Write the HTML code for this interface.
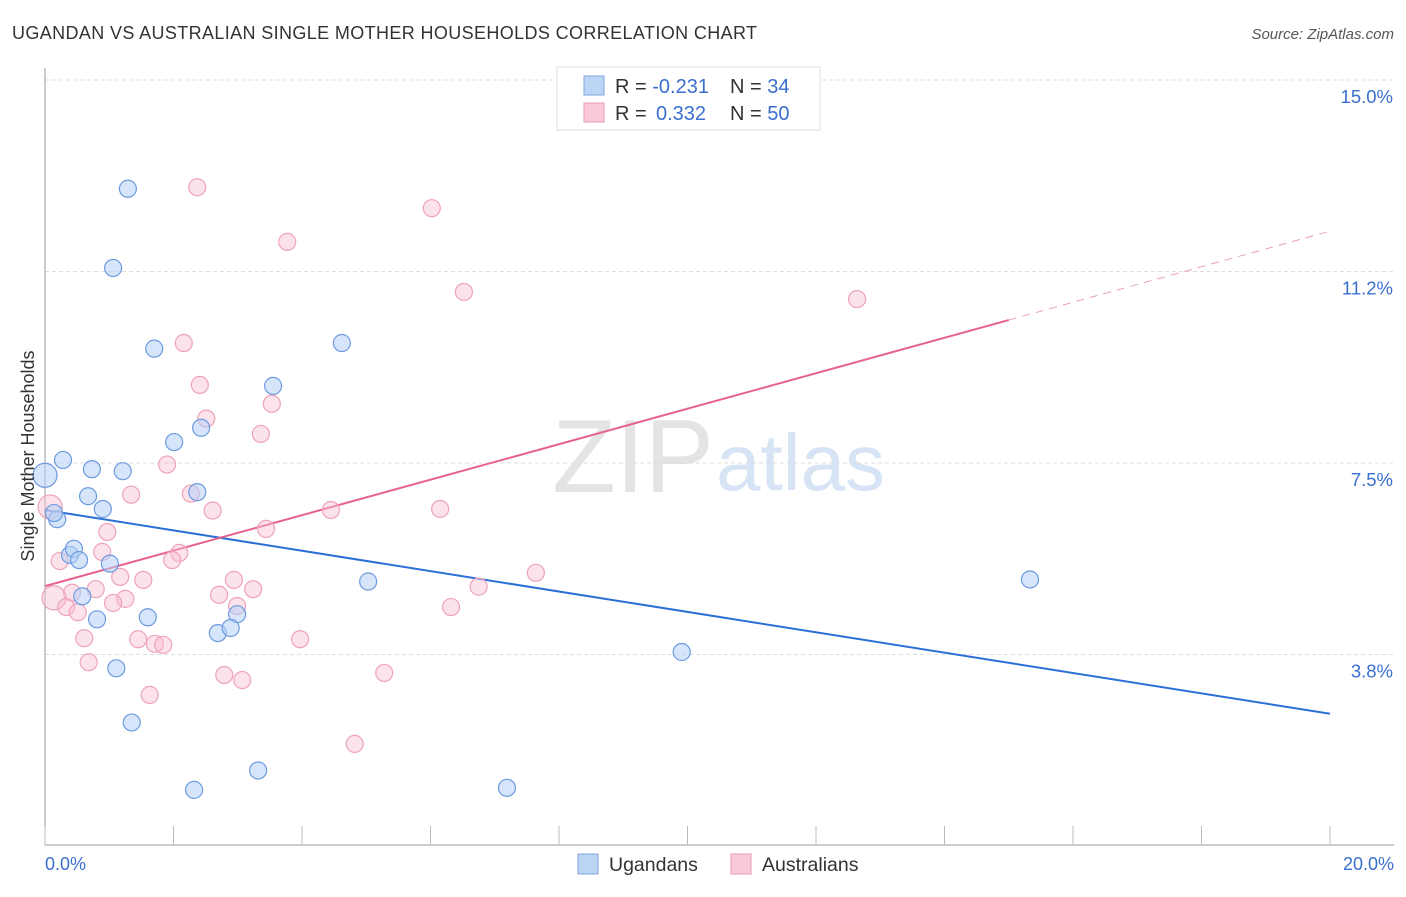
<!DOCTYPE html>
<html><head><meta charset="utf-8"><style>
body{margin:0;background:#fff;font-family:"Liberation Sans",sans-serif;}
svg text{font-family:"Liberation Sans",sans-serif;}
</style></head><body>
<svg width="1406" height="892">
<text x="12" y="39" font-size="18" fill="#333" textLength="745">UGANDAN VS AUSTRALIAN SINGLE MOTHER HOUSEHOLDS CORRELATION CHART</text>
<text x="1394" y="39" font-size="15" fill="#555" font-style="italic" text-anchor="end">Source: ZipAtlas.com</text>
<text x="714" y="492" font-size="104" fill="#e4e4e4" text-anchor="end" font-family="Liberation Serif">ZIP</text>
<text x="716" y="490" font-size="80" fill="#d6e4f5">atlas</text>
<g id="grid"></g>
<g id="axes"></g>
<g id="lines"></g>
<g id="pts"></g>
<text x="34" y="456" font-size="18" fill="#333" text-anchor="middle" transform="rotate(-90 34 456)">Single Mother Households</text>
<text x="45" y="870" font-size="18" fill="#3a6fd0">0.0%</text>
<text x="1394" y="870" font-size="18" fill="#3a6fd0" text-anchor="end">20.0%</text>
<g>
<rect x="557" y="67" width="263" height="63" fill="#fff" stroke="#ddd"/>
<rect x="584" y="76" width="20" height="19" fill="#bcd5f5" stroke="#7ea6e0"/>
<rect x="584" y="103" width="20" height="19" fill="#f9c9d7" stroke="#eb9ab3"/>
<text x="615" y="93" font-size="20" fill="#333">R = <tspan fill="#3a6fd0">-0.231</tspan><tspan x="730">N = </tspan><tspan fill="#3a6fd0">34</tspan></text>
<text x="615" y="120" font-size="20" fill="#333">R = <tspan fill="#3a6fd0" x="656">0.332</tspan><tspan x="730">N = </tspan><tspan fill="#3a6fd0">50</tspan></text>
</g>
<g>
<rect x="578" y="854" width="20" height="20" fill="#bcd5f5" stroke="#7ea6e0"/>
<text x="609" y="871" font-size="19.5" fill="#333">Ugandans</text>
<rect x="731" y="854" width="20" height="20" fill="#f9c9d7" stroke="#eb9ab3"/>
<text x="762" y="871" font-size="19.5" fill="#333">Australians</text>
</g>
</svg>
<script>
const yTicks=[15.0,11.25,7.5,3.75];
const yTickLabels=["15.0%","11.2%","7.5%","3.8%"];
const xTicks=[0,2.0,4.0,6.0,8.0,10.0,12.0,14.0,16.0,18.0,20.0];
const ugX=[1.29,1.06,1.70,4.62,3.55,2.43,2.01,0.28,0.73,1.21,0.0,0.67,2.37,0.90,0.19,0.14,0.39,0.45,0.53,1.01,5.03,15.33,0.58,1.60,0.81,2.99,2.69,2.89,9.91,1.11,1.35,3.317,2.32,7.19];
const ugY=[12.87,11.32,9.74,9.85,9.01,8.19,7.91,7.56,7.38,7.34,7.26,6.85,6.93,6.60,6.40,6.52,5.70,5.82,5.60,5.53,5.18,5.22,4.89,4.48,4.44,4.54,4.17,4.27,3.80,3.48,2.42,1.48,1.10,1.14];
const auX=[2.37,6.02,3.77,6.52,12.64,2.16,2.41,3.53,2.51,3.36,1.90,1.34,2.27,2.61,4.45,6.15,3.44,0.97,0.08,0.89,2.09,1.98,0.23,7.64,1.17,1.53,6.75,2.94,3.24,0.79,0.42,0.14,2.71,1.25,1.06,2.99,0.33,0.51,6.32,0.61,1.45,1.71,1.84,3.97,0.68,2.79,3.07,5.28,1.63,4.82];
const auY=[12.90,12.49,11.83,10.85,10.71,9.85,9.03,8.66,8.37,8.07,7.47,6.88,6.90,6.57,6.58,6.60,6.21,6.15,6.64,5.76,5.74,5.60,5.58,5.35,5.27,5.21,5.08,5.21,5.03,5.03,4.96,4.86,4.92,4.84,4.76,4.70,4.68,4.58,4.68,4.07,4.05,3.96,3.94,4.05,3.60,3.35,3.25,3.39,2.96,2.00];
const ugTrend=[6.58,2.59];
const auTrend=[5.09,10.30,12.04];
const auSolidEnd=15.0;
const sx=v=>45+v*64.25, sy=v=>80+(15-v)*51.07;
const NS="http://www.w3.org/2000/svg";
function mk(p,t,a){const e=document.createElementNS(NS,t);for(const k in a)e.setAttribute(k,a[k]);p.appendChild(e);return e;}
const grid=document.getElementById('grid'),axes=document.getElementById('axes'),lines=document.getElementById('lines'),pts=document.getElementById('pts');
yTicks.forEach((v,i)=>{
 const g=mk(grid,'line',{x1:45,x2:1394,y1:sy(v),y2:sy(v),stroke:'#ddd','stroke-dasharray':'4 3'});
 
 
 const t=mk(grid,'text',{x:1393,y:sy(v)+23,'font-size':18.5,fill:'#3a6fd0','text-anchor':'end'});
 t.textContent=yTickLabels[i];
 
 
});
const ya=mk(axes,'line',{x1:45,x2:45,y1:68,y2:845,stroke:'#999'});


const xa=mk(axes,'line',{x1:45,x2:1394,y1:845,y2:845,stroke:'#999'});


xTicks.forEach(v=>{
 const t=mk(axes,'line',{x1:sx(v),x2:sx(v),y1:826,y2:845,stroke:'#bbb'});
 
 
});
const l1=mk(lines,'line',{x1:sx(0),y1:sy(ugTrend[0]),x2:sx(20),y2:sy(ugTrend[1]),stroke:'#2b6fd6','stroke-width':2});


const l2=mk(lines,'line',{x1:sx(0),y1:sy(auTrend[0]),x2:sx(auSolidEnd),y2:sy(auTrend[1]),stroke:'#e8628f','stroke-width':2});


const l3=mk(lines,'line',{x1:sx(auSolidEnd),y1:sy(auTrend[1]),x2:sx(20),y2:sy(auTrend[2]),stroke:'#e8a0b8','stroke-width':1,'stroke-dasharray':'8 6'});


auX.forEach((x,i)=>{
 const c=mk(pts,'circle',{cx:sx(x),cy:sy(auY[i]),r:(x<0.2?12:8.5),fill:'rgba(248,190,208,0.45)',stroke:'#eea3bb','stroke-width':1.2});
 
 
});
ugX.forEach((x,i)=>{
 const c=mk(pts,'circle',{cx:sx(x),cy:sy(ugY[i]),r:(x<0.05?12:8.5),fill:'rgba(180,208,245,0.55)',stroke:'#6d9be0','stroke-width':1.2});
 
 
});
</script>
</body></html>
